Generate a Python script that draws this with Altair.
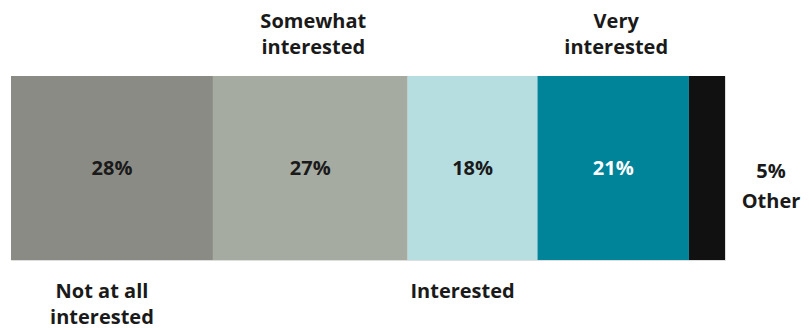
import altair as alt
import pandas as pd

categories = ["Not at all interested", "Somewhat interested", "Interested", "Very interested", "Other"]
values = [28, 27, 18, 21, 5]
colors = ["#8b8b85", "#a6aba2", "#b6dde0", "#00849a", "#111111"]
label_pos = ["below", "above", "below", "above", "right"]
label_text = ["Not at all\ninterested", "Somewhat\ninterested", "Interested", "Very\ninterested", ""]

starts, ends, mids = [], [], []
acc = 0
for v in values:
    starts.append(acc)
    ends.append(acc + v)
    mids.append(acc + v / 2)
    acc += v

df = pd.DataFrame({
    "category": categories,
    "value": values,
    "start": starts,
    "end": ends,
    "mid": mids,
    "pos": label_pos,
    "label": label_text,
    "pct": [f"{v}%" for v in values],
    "row": ["all"] * len(values),
})
df_other = pd.DataFrame({"x": [acc], "row": ["all"], "txt": [f"{values[-1]}%\nOther"]})

FONT = "Open Sans"
FS = 20
xs = alt.Scale(domain=[0, acc], nice=False, zero=True)
ys = alt.Scale(paddingInner=0, paddingOuter=0)
X = lambda f: alt.X(f, type="quantitative", scale=xs, axis=None)
Y = alt.Y("row:N", scale=ys, axis=None)

base = alt.Chart(df)

bars = base.mark_bar(cornerRadius=0, strokeWidth=0).encode(
    x=X("start"), x2="end", y=Y,
    color=alt.Color("category:N", scale=alt.Scale(domain=categories, range=colors), legend=None),
)

pct = base.transform_filter(alt.datum.category != "Other").mark_text(
    font=FONT, fontSize=FS, fontWeight="bold", baseline="middle", align="center", dy=1
).encode(
    x=X("mid"), y=Y, text="pct:N",
    color=alt.condition(alt.datum.category == "Very interested", alt.value("white"), alt.value("#1a1a1a")),
)

above = base.transform_filter(alt.datum.pos == "above").mark_text(
    font=FONT, fontSize=FS, fontWeight="bold", baseline="middle", align="center",
    lineBreak="\n", lineHeight=26, dx=3, dy=-146, color="#1a1a1a",
).encode(x=X("mid"), y=Y, text="label:N")

below = base.transform_filter(alt.datum.pos == "below").mark_text(
    font=FONT, fontSize=FS, fontWeight="bold", baseline="middle", align="center",
    lineBreak="\n", lineHeight=26, dx=-10, dy=124, color="#1a1a1a",
).encode(x=X("mid"), y=Y, text="label:N")

other = alt.Chart(df_other).mark_text(
    font=FONT, fontSize=FS, fontWeight="bold", baseline="middle", align="center",
    lineBreak="\n", lineHeight=30, dx=46, dy=4, color="#1a1a1a",
).encode(x=X("x"), y=Y, text="txt:N")

chart = alt.layer(bars, pct, above, below, other).properties(
    width=714, height=184,
    autosize=alt.AutoSizeParams(type="none"),
    padding={"left": 3, "top": 68, "right": 76, "bottom": 70},
).configure_view(stroke=None).configure(background="white")

chart.save("out.html", embed_options={"renderer": "svg", "actions": False})
